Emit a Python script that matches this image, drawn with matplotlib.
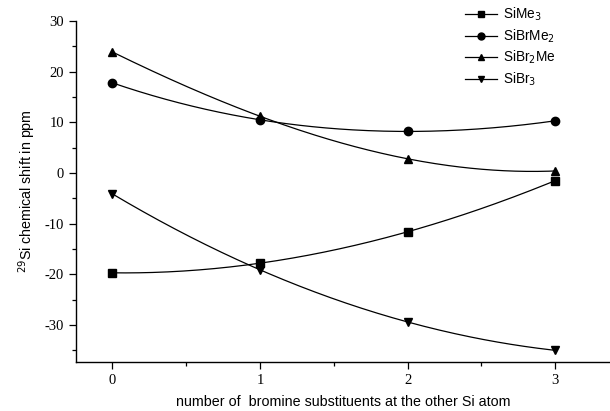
import numpy as np
import matplotlib.pyplot as plt

# number of Br substituents at the other Si atom
n_br = [0, 1, 2, 3]

# 29Si chemical shifts (ppm)
si_me3 = [-19.7, -17.8, -11.6, -1.5]
si_brme2 = [17.8, 10.5, 8.2, 10.3]
si_br2me = [23.9, 11.2, 2.8, 0.4]
si_br3 = [-4.1, -19.1, -29.4, -35.0]

series = [
    (si_me3, 's', r'SiMe$_3$'),
    (si_brme2, 'o', r'SiBrMe$_2$'),
    (si_br2me, '^', r'SiBr$_2$Me'),
    (si_br3, 'v', r'SiBr$_3$'),
]

plt.rcParams['font.family'] = 'Liberation Sans'
plt.rcParams['axes.unicode_minus'] = False

fig = plt.figure(figsize=(6.1, 4.11), dpi=100)
ax = fig.add_axes([0.1246, 0.1192, 0.8754, 0.8298])

x = np.array(n_br, dtype=float)
xs = np.linspace(x.min(), x.max(), 200)
for y, mk, lab in series:
    # smooth curve through the points (cubic through 4 points)
    coef = np.polyfit(x, y, 3)
    ax.plot(xs, np.polyval(coef, xs), color='black', lw=0.9)
    ax.plot(x, y, linestyle='none', marker=mk, color='black', markersize=6)
    ax.plot([], [], color='black', lw=0.9, marker=mk, markersize=5, label=lab)

ax.set_xlim(-0.245, 3.37)
ax.set_ylim(-37.3, 30)
ax.set_xticks([0, 1, 2, 3])
ax.set_xticks([0.5, 1.5, 2.5], minor=True)
ax.set_yticks([-30, -20, -10, 0, 10, 20, 30])
ax.set_yticks([-35, -25, -15, -5, 5, 15, 25], minor=True)
ax.spines['top'].set_visible(False)
ax.spines['right'].set_visible(False)
for sp in ('left', 'bottom'):
    ax.spines[sp].set_linewidth(1.0)
ax.tick_params(which='major', length=5, width=0.9, labelsize=10.5)
ax.tick_params(which='minor', length=3, width=0.9)
for t in ax.get_xticklabels() + ax.get_yticklabels():
    t.set_fontfamily('Liberation Serif')

ax.set_xlabel('number of  bromine substituents at the other Si atom', fontsize=10.3, labelpad=6)
ax.set_ylabel(r'$^{29}$Si chemical shift in ppm', fontsize=10.3, labelpad=5)

ax.legend(loc='upper left', bbox_to_anchor=(0.705, 1.08), frameon=False, fontsize=9.8,
          handlelength=2.4, labelspacing=0.3, handletextpad=0.4)

fig.savefig('out.png', dpi=100)
